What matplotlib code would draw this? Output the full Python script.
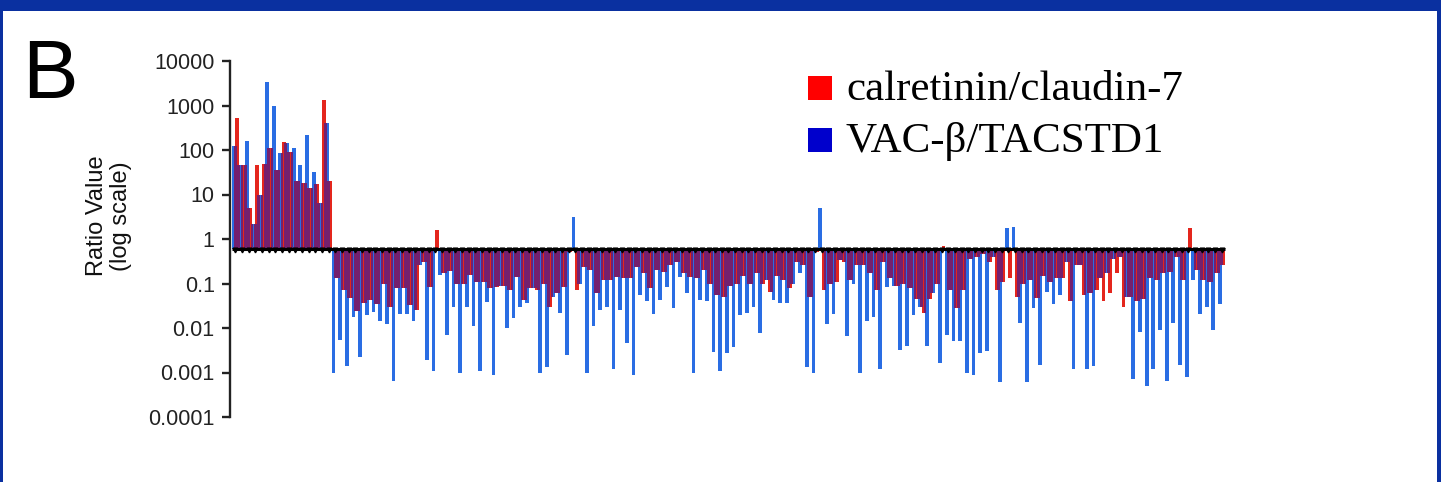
import numpy as np
import matplotlib
matplotlib.use("Agg")
import matplotlib.pyplot as plt
from matplotlib.patches import Rectangle

# ---------------- data (ratio values, log scale) ----------------
# mesothelioma samples (ratios above 1)
blue_mpm = [120, 45, 160, 2.2, 10, 3300, 1000, 85, 140, 110, 45, 220, 32, 6.5, 400]
red_mpm = [520, 45, 5, 45, 48, 110, 35, 150, 90, 20, 18, 14, 17, 1300, 20]

# adenocarcinoma samples (ratios mostly below 1)
blue_adca = [
    0.001, 0.0053, 0.0014, 0.018, 0.0022, 0.02, 0.023, 0.014, 0.012, 0.00066,
    0.021, 0.021, 0.014, 0.26, 0.0019, 0.0011, 0.156, 0.0069, 0.03, 0.001,
    0.03, 0.011, 0.0011, 0.039, 0.0009, 0.09, 0.01,
    0.017, 0.03, 0.036, 0.08, 0.001, 0.0013, 0.05, 0.022, 0.0025, 3.2,
    0.095, 0.001, 0.011, 0.025, 0.03, 0.0012, 0.025, 0.0045, 0.00088, 0.055,
    0.04, 0.021, 0.043, 0.085, 0.028, 0.14,
    0.06, 0.001, 0.043, 0.04, 0.0029, 0.0011, 0.0027, 0.0038, 0.02, 0.022,
    0.03, 0.0076, 0.12, 0.043, 0.036, 0.036, 0.1, 0.17, 0.0013, 0.001,
    5.0, 0.012, 0.021, 0.34, 0.0065, 0.1, 0.001,
    0.014, 0.018, 0.0012, 0.085, 0.09, 0.0032, 0.004, 0.0195, 0.03, 0.004,
    0.06, 0.0016, 0.007, 0.005, 0.005, 0.00095, 0.0009, 0.0027, 0.003, 0.4,
    0.0006, 1.8, 1.9, 0.013, 0.0006, 0.028,
    0.0015, 0.065, 0.035, 0.055, 0.3, 0.0012, 0.26, 0.0012, 0.0014, 0.13,
    0.17, 0.35, 0.4, 0.05, 0.0007, 0.008, 0.0005, 0.0012, 0.009, 0.00065,
    0.013, 0.0015, 0.0008, 0.12, 0.021, 0.03, 0.009, 0.035,
]
red_adca = [
    0.13, 0.072, 0.047, 0.024, 0.036, 0.043, 0.035, 0.1, 0.03, 0.078,
    0.078, 0.033, 0.025, 0.3, 0.085, 1.6, 0.17, 0.19, 0.1, 0.1,
    0.156, 0.11, 0.11, 0.078, 0.085, 0.09, 0.072,
    0.14, 0.043, 0.08, 0.072, 0.095, 0.03, 0.06, 0.085, 0.5, 0.072,
    0.24, 0.2, 0.06, 0.12, 0.12, 0.14, 0.13, 0.13, 0.24, 0.17,
    0.08, 0.2, 0.18, 0.26, 0.3, 0.17,
    0.14, 0.13, 0.2, 0.1, 0.055, 0.05, 0.09, 0.1, 0.15, 0.095,
    0.17, 0.095, 0.066, 0.15, 0.12, 0.08, 0.3, 0.26, 0.05, 0.5,
    0.072, 0.1, 0.11, 0.3, 0.12, 0.26, 0.26,
    0.17, 0.072, 0.3, 0.13, 0.09, 0.1, 0.08, 0.045, 0.022, 0.045,
    0.1, 0.68, 0.072, 0.028, 0.072, 0.35, 0.4, 0.45, 0.3, 0.072,
    0.11, 0.13, 0.05, 0.1, 0.12, 0.047,
    0.15, 0.11, 0.13, 0.13, 0.04, 0.26, 0.055, 0.06, 0.072, 0.04,
    0.06, 0.17, 0.03, 0.05, 0.04, 0.045, 0.13, 0.12, 0.17, 0.18,
    0.4, 0.12, 1.77, 0.2, 0.12, 0.11, 0.17, 0.26,
]

baseline = 0.6
series_labels = ["calretinin/claudin-7", "VAC-\u03b2/TACSTD1"]
ytick_values = [1e4, 1e3, 1e2, 1e1, 1, 0.1, 0.01, 0.001, 0.0001]
ytick_labels = ["10000", "1000", "100", "10", "1", "0.1", "0.01", "0.001", "0.0001"]

# ---------------- styling ----------------
RED = "#e4261d"
BLUE = "#2a6de3"
PURPLE = "#74206e"
FRAME = "#0a30a0"

W, H = 1441, 482
fig = plt.figure(figsize=(W / 100, H / 100), dpi=100)
fig.patch.set_facecolor("white")

ax = fig.add_axes([230 / W, 1 - 417 / H, 996 / W, 356 / H])
ax.set_yscale("log")
ax.set_ylim(1e-4, 1e4)

blue = np.array(blue_mpm + blue_adca, dtype=float)
red = np.array(red_mpm + red_adca, dtype=float)
n = len(blue)
ax.set_xlim(-0.3, n + 0.15)

idx = np.arange(n)
xb = idx + 0.25
xr = idx + 0.75
ax.bar(xb, blue - baseline, bottom=baseline, width=0.56, color=BLUE,
       linewidth=0, zorder=2)
ax.bar(xr, red - baseline, bottom=baseline, width=0.56, color=RED,
       linewidth=0, zorder=2)

# overlapping (mixed) parts between neighbouring bars drawn purple
seq_v = np.empty(2 * n)
seq_v[0::2] = blue
seq_v[1::2] = red
seq_x = np.empty(2 * n)
seq_x[0::2] = xb
seq_x[1::2] = xr
v1, v2 = seq_v[:-1], seq_v[1:]
same = (v1 > baseline) == (v2 > baseline)
ov = np.where(v1 > baseline, np.minimum(v1, v2), np.maximum(v1, v2))
ax.bar((seq_x[:-1] + 0.25)[same], (ov - baseline)[same], bottom=baseline,
       width=0.4, color=PURPLE, linewidth=0, zorder=3)

# baseline with small sample ticks
ax.plot([0, n], [baseline, baseline], color="black", lw=2.2, zorder=5,
        solid_capstyle="butt")
ax.plot(idx + 0.5, np.full(n, baseline * 0.92), linestyle="none", marker="v",
        markersize=3.4, color="black", zorder=6)

# axes styling
for s in ["top", "right", "bottom"]:
    ax.spines[s].set_visible(False)
ax.spines["left"].set_linewidth(1.7)
ax.spines["left"].set_color("#222222")
ax.set_yticks(ytick_values)
ax.set_yticklabels(ytick_labels)
ax.minorticks_off()
ax.tick_params(axis="y", which="major", length=6, width=1.7, pad=5,
               labelsize=15.5, colors="#222222")
for t in ax.get_yticklabels():
    t.set_fontfamily("Liberation Sans")
ax.set_xticks([])
ax.patch.set_alpha(0)

# y label
fig.text(109 / W, 1 - 216 / H, "Ratio Value\n(log scale)", rotation=90,
         ha="center", va="center", fontsize=17, family="Liberation Sans",
         linespacing=1.12, multialignment="center", color="#111111")

# panel letter
fig.text(50 / W, 1 - 76 / H, "B", fontsize=60, ha="center", va="center",
         family="Liberation Sans", color="black")

# legend
leg_colors = ["#ff0000", "#0000cc"]
leg_base = [100, 152]
for lab, col, yb in zip(series_labels, leg_colors, leg_base):
    fig.add_artist(Rectangle((808 / W, 1 - yb / H), 24 / W, 24 / H,
                             transform=fig.transFigure, color=col, lw=0))
    fig.text(846 / W, 1 - yb / H, lab, fontsize=31, family="Liberation Serif",
             ha="left", va="baseline", color="black")

# blue slide frame
fig.add_artist(Rectangle((0, 1 - 11 / H), 1, 11 / H, transform=fig.transFigure,
                         color=FRAME, lw=0))
fig.add_artist(Rectangle((0, 0), 3 / W, 1, transform=fig.transFigure,
                         color=FRAME, lw=0))
fig.add_artist(Rectangle((1 - 4 / W, 0), 4 / W, 1, transform=fig.transFigure,
                         color=FRAME, lw=0))

fig.savefig("out.png", dpi=100, facecolor="white")
